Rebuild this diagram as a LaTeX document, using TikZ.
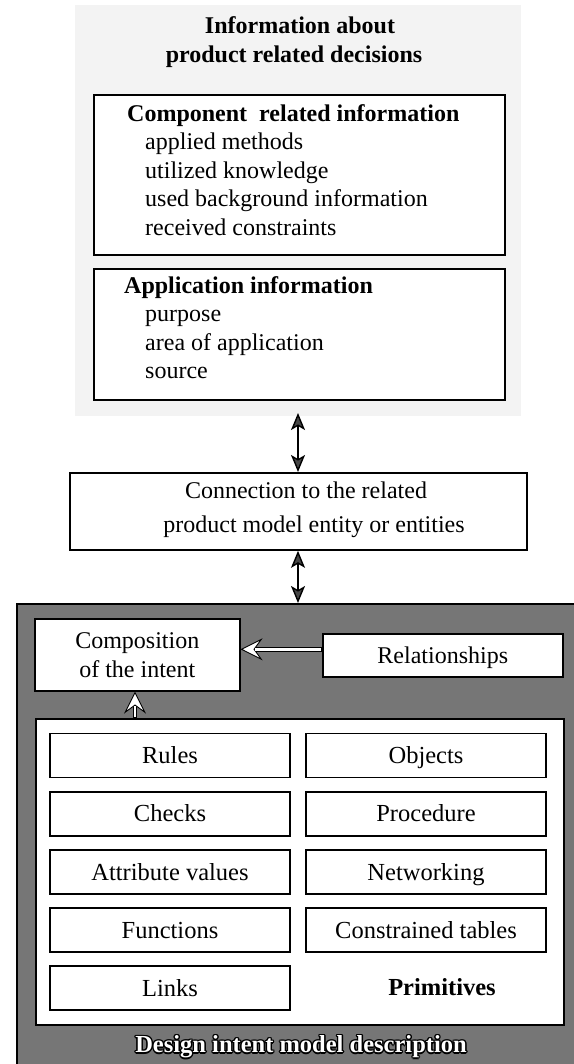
\documentclass[tikz,border=0pt]{standalone}
\usepackage{fontspec}
\setmainfont{Liberation Serif}
\usetikzlibrary{arrows.meta,calc}

\definecolor{panelgray}{RGB}{243,243,243}
\definecolor{darkpanel}{RGB}{118,118,118}
\definecolor{headgray}{RGB}{70,70,70}

\tikzset{
  txt/.style={font=\fontsize{24}{28.5}\selectfont, inner sep=0pt},
  infobox/.style={draw=black, line width=1.8pt, fill=white, inner sep=0pt},
  midtext/.style={text height=16pt, text depth=0pt},
  primbox/.style={draw=black, line width=1.6pt, fill=white, inner sep=0pt,
    minimum width=240pt, minimum height=44pt, midtext,
    font=\fontsize{24.5}{28.5}\selectfont},
  linkarrow/.style={line width=1.4pt,
    {Stealth[length=17pt,width=14pt,inset=4pt,fill=headgray]}-{Stealth[length=17pt,width=14pt,inset=4pt,fill=headgray]}},
  hollowhead/.style={line width=0.9pt, draw=black,
    -{Stealth[length=22pt,width=22pt,inset=8pt,fill=white]}},
  shaftout/.style={line width=4.8pt, draw=black},
  shaftin/.style={line width=2.8pt, draw=white},
  captionfont/.style={txt, font=\fontsize{24.5}{28.5}\selectfont\bfseries},
}

\begin{document}
\begin{tikzpicture}[x=1pt, y=-1pt]
\useasboundingbox (0,0) rectangle (573,1064);

% ---------- product related decisions ----------
\fill[panelgray] (75,5) rectangle (521,416);
\node[txt, font=\fontsize{24}{29}\selectfont\bfseries, align=center] (title) at (294,42.5)
  {\hspace*{12pt}Information about\\product related decisions};

\node[infobox, minimum width=411pt, minimum height=160pt, anchor=north west] (comp) at (93,94) {};
\node[txt, anchor=north west, align=left] (compt) at (127,104)
  {\textbf{Component\ \ related information}\\
   \hspace*{18pt}applied methods\\
   \hspace*{18pt}utilized knowledge\\
   \hspace*{18pt}used background information\\
   \hspace*{18pt}received constraints};

\node[infobox, minimum width=411pt, minimum height=131pt, anchor=north west] (appl) at (93,268) {};
\node[txt, anchor=north west, align=left] (applt) at (124,276)
  {\textbf{Application information}\\
   \hspace*{21pt}purpose\\
   \hspace*{21pt}area of application\\
   \hspace*{21pt}source};

\coordinate (panelbot) at (298,413);

% ---------- connection ----------
\node[infobox, minimum width=457pt, minimum height=77pt, anchor=north west] (conn) at (69,472) {};
\node[txt, font=\fontsize{24}{34}\selectfont, align=center] (connt) at (306,510)
  {Connection to the related\\\hspace*{16pt}product model entity or entities};

\draw[linkarrow] (panelbot) -- (panelbot |- conn.north);

% ---------- design intent model ----------
\node[draw=black, line width=1.8pt, fill=darkpanel, minimum width=570pt, minimum height=470pt,
      anchor=north west, inner sep=0pt] (dim) at (16,603) {};
\draw[linkarrow] (conn.south -| panelbot) -- (dim.north -| panelbot);

\node[infobox, line width=1.6pt, minimum width=205pt, minimum height=72pt, anchor=north west,
      txt, align=center, font=\fontsize{24}{29}\selectfont] (compo) at (34,618)
  {Composition\\of the intent};
\node[infobox, line width=1.6pt, minimum width=240pt, minimum height=43pt, anchor=north west,
      txt, midtext] (rel) at (322,633) {Relationships};

\node[infobox, line width=1.6pt, minimum width=528pt, minimum height=306pt, anchor=north west] (prim) at (35,718) {};

% left column
\node[primbox] (rules)  at (170,755.3) {Rules};
\node[primbox] (checks) at (170,813.8) {Checks};
\node[primbox] (attr)   at (170,872)   {Attribute values};
\node[primbox] (funcs)  at (170,930)   {Functions};
\node[primbox] (links)  at (170,988.2) {Links};
% right column
\node[primbox] (objs)   at (426,755.3) {Objects};
\node[primbox] (proc)   at (426,813.8) {Procedure};
\node[primbox] (netw)   at (426,872)   {Networking};
\node[primbox] (ctab)   at (426,930)   {Constrained tables};
\node[txt, font=\fontsize{24.5}{28.5}\selectfont\bfseries, midtext]
  (primt) at (442,987) {Primitives};

% hollow arrow: relationships -> composition
\coordinate (ra) at ([yshift=6pt]rel.west);
\coordinate (ca) at (compo.east |- ra);
\draw[shaftout] (ra) -- ($(ca)+(14,0)$);
\draw[hollowhead] ($(ca)+(23,0)$) -- (ca);
\draw[shaftin] ($(ra)+(-1.2,0)$) -- ($(ca)+(14,0)$);

% hollow arrow: primitives -> composition
\coordinate (pa) at (135,718);
\coordinate (cb) at (pa |- compo.south);
\draw[shaftout] (pa) -- ($(cb)+(0,14)$);
\draw[hollowhead] ($(cb)+(0,23)$) -- (cb);
\draw[shaftin] ($(pa)+(0,-1.2)$) -- ($(cb)+(0,14)$);

% outlined caption: black halo under white lettering
\foreach \dx/\dy [count=\k] in {1.4/0,-1.4/0,0/1.4,0/-1.4,1/1,-1/1,1/-1,-1/-1}
  \node[captionfont, text=black] (halo\k)
    at ($(301,1047)+(\dx,\dy)$) {Design intent model description};
\node[captionfont, text=white] (dimt) at (301,1047)
  {Design intent model description};
\end{tikzpicture}
\end{document}
